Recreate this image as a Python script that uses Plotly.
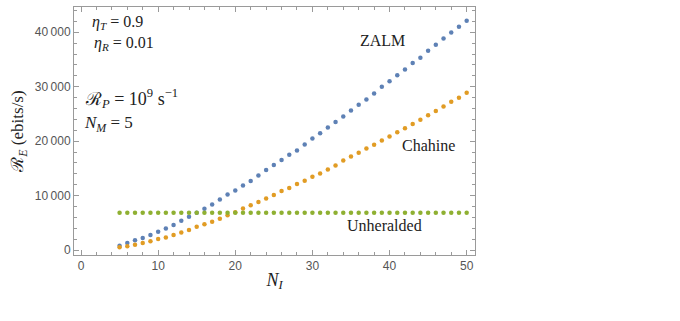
import plotly.graph_objects as go

n_zalm = list(range(5, 51))
zalm = [793, 1282, 1771, 2198, 2747, 3357, 3968, 4579, 5372, 6105,
        6850, 7570, 8364, 9280, 10196, 10928, 11840, 12690, 13670, 14700,
        15620, 16530, 17510, 18300, 19400, 20475, 21450, 22490, 23500, 24540,
        25650, 26690, 27670, 28760, 29980, 31020, 32110, 33150, 34370, 35340,
        36620, 37720, 38880, 39980, 41010, 42110]

n_chahine = list(range(5, 51))
chahine = [488, 670, 975, 1280, 1585, 2011, 2316, 2742, 3230, 3656,
           4265, 4753, 5180, 5728, 6398, 6947, 7618, 8227, 8836, 9446,
           10116, 10847, 11395, 12126, 12736, 13467, 14077, 14808, 15539, 16450,
           17180, 17855, 18647, 19317, 20110, 20841, 21633, 22364, 23157, 23949,
           24741, 25533, 26386, 27240, 27970, 28885]

n_unher = list(range(5, 51))
unheralded = [6850] * len(n_unher)

x_ticks = [0, 10, 20, 30, 40, 50]
y_ticks = [0, 10000, 20000, 30000, 40000]
y_ticktext = ["0", "10\u2009000", "20\u2009000", "30\u2009000", "40\u2009000"]

c_blue = "#5E81B5"
c_orange = "#E19C24"
c_green = "#8FB032"

fig = go.Figure()
fig.add_trace(go.Scatter(x=n_zalm, y=zalm, mode="markers",
                         marker=dict(color=c_blue, size=4.5), name="ZALM"))
fig.add_trace(go.Scatter(x=n_chahine, y=chahine, mode="markers",
                         marker=dict(color=c_orange, size=4.5), name="Chahine"))
fig.add_trace(go.Scatter(x=n_unher, y=unheralded, mode="markers",
                         marker=dict(color=c_green, size=4.5), name="Unheralded"))

serif = "Liberation Serif"
frame = "#9a9a9a"
tickfont = dict(family="Liberation Sans", size=12, color="#555555")
eq = "\u2005=\u2005"

fig.update_layout(
    width=680, height=321,
    margin=dict(l=74, r=205, t=7, b=66),
    plot_bgcolor="white", paper_bgcolor="white",
    showlegend=False,
    font=dict(family=serif),
    xaxis=dict(range=[-0.91, 51.08], tickvals=x_ticks, ticks="inside", ticklen=5,
               tickcolor=frame, showline=True, linecolor=frame, linewidth=1,
               mirror="ticks", showgrid=False, zeroline=False, tickfont=tickfont,
               minor=dict(dtick=2, ticks="inside", ticklen=3, tickcolor=frame, showgrid=False),
               title=dict(text="<i>N</i><sub><i>I</i></sub>", font=dict(family=serif, size=18, color="#222"),
                          standoff=0)),
    yaxis=dict(range=[-919, 44645], tickvals=y_ticks, ticktext=y_ticktext, ticks="inside",
               ticklen=5, tickcolor=frame, showline=True, linecolor=frame, linewidth=1,
               mirror="ticks", showgrid=False, zeroline=False, tickfont=tickfont,
               minor=dict(dtick=2000, ticks="inside", ticklen=3, tickcolor=frame, showgrid=False),
               title=dict(text="\u211B<sub><i>E</i></sub> (ebits/s)", font=dict(family=serif, size=17, color="#222"),
                          standoff=6)),
)

ann_font = dict(family=serif, size=16, color="#222")
annotations = [
    dict(x=39.15, y=38400, text="ZALM", xanchor="center"),
    dict(x=45.0, y=19290, text="Chahine", xanchor="center"),
    dict(x=39.3, y=4590, text="Unheralded", xanchor="center"),
    dict(x=1.17, y=41890, text="<i>η</i><sub><i>T</i></sub>" + eq + "0.9", xanchor="left"),
    dict(x=1.43, y=38030, text="<i>η</i><sub><i>R</i></sub>" + eq + "0.01", xanchor="left"),
    dict(x=0.26, y=27925, text="\u211B<sub><i>P</i></sub>" + eq + "10<sup>9</sup> s<sup>\u22121</sup>", xanchor="left", size=18),
    dict(x=0.13, y=23150, text="<i>N</i><sub><i>M</i></sub>" + eq + "5", xanchor="left", size=17),
]
for a in annotations:
    size = a.pop("size", 16)
    f = dict(ann_font)
    f["size"] = size
    fig.add_annotation(xref="x", yref="y", showarrow=False, yanchor="middle", font=f, **a)

fig.write_html("out.html")
